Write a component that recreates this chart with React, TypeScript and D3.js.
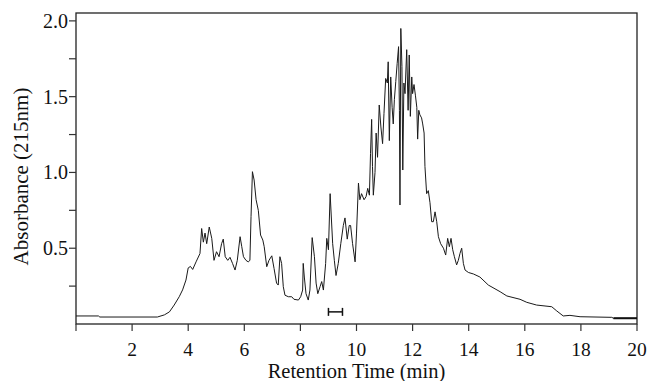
import React from 'react';
import * as d3 from 'd3';

// retention time (min) and absorbance
const times = [
  0, 0.8, 0.85, 2.9, 3.15, 3.33, 3.5, 3.68, 3.8, 3.92, 4.0, 4.08, 4.16, 4.28, 4.42, 4.48,
  4.54, 4.6, 4.66, 4.75, 4.84, 4.92, 5.01, 5.1, 5.19, 5.25, 5.32, 5.41, 5.49, 5.58, 5.67,
  5.75, 5.85, 5.91, 5.97, 6.06, 6.14, 6.2, 6.24, 6.29, 6.35, 6.42, 6.5, 6.58, 6.66, 6.71,
  6.8, 6.88, 6.98, 7.06, 7.15, 7.21, 7.27, 7.33, 7.39, 7.45, 7.57, 7.69, 7.77, 7.93, 8.01,
  8.08, 8.1, 8.14, 8.2, 8.28, 8.34, 8.42, 8.5, 8.56, 8.62, 8.7, 8.76, 8.82, 8.9, 8.94, 9.0,
  9.06, 9.12, 9.15, 9.21, 9.27, 9.35, 9.44, 9.53, 9.59, 9.67, 9.74, 9.79, 9.86, 9.95,
  10.0, 10.07, 10.12, 10.18, 10.27, 10.34, 10.4, 10.46, 10.5, 10.54, 10.57, 10.6, 10.66,
  10.7, 10.75, 10.81, 10.87, 10.93, 10.98, 11.04, 11.1, 11.13, 11.17, 11.22, 11.27, 11.31,
  11.35, 11.4, 11.45, 11.5, 11.53, 11.55, 11.58, 11.62, 11.65, 11.69, 11.73, 11.79, 11.84,
  11.88, 11.92, 11.97, 12.0, 12.05, 12.1, 12.15, 12.18, 12.22, 12.26, 12.32, 12.36, 12.41,
  12.44, 12.5, 12.56, 12.62, 12.68, 12.74, 12.8, 12.86, 12.92, 13.0, 13.1, 13.18, 13.25,
  13.31, 13.37, 13.43, 13.49, 13.57, 13.63, 13.69, 13.75, 13.81, 13.87, 13.99, 14.17, 14.4,
  14.7, 15.12, 15.36, 15.83, 16.07, 16.42, 16.96, 17.14, 17.37, 17.61, 17.97, 19.1, 19.16, 20,
];
const absorbance = [
  0.053, 0.053, 0.046, 0.046, 0.06, 0.08, 0.125, 0.18, 0.225, 0.29, 0.37, 0.38, 0.36, 0.41, 0.465, 0.63,
  0.54, 0.6, 0.53, 0.64, 0.565, 0.42, 0.477, 0.444, 0.53, 0.56, 0.444, 0.42, 0.44, 0.4, 0.356,
  0.42, 0.576, 0.51, 0.444, 0.42, 0.41, 0.42, 0.71, 1.005, 0.95, 0.82, 0.75, 0.587, 0.554, 0.51,
  0.378, 0.42, 0.45, 0.367, 0.27, 0.257, 0.444, 0.4, 0.246, 0.19, 0.18, 0.18, 0.163, 0.158, 0.18,
  0.224, 0.4, 0.31, 0.2, 0.158, 0.224, 0.57, 0.444, 0.27, 0.2, 0.246, 0.28, 0.224, 0.4, 0.565, 0.49,
  0.86, 0.64, 0.53, 0.42, 0.32, 0.4, 0.53, 0.65, 0.7, 0.56, 0.65, 0.65, 0.53, 0.41,
  0.6, 0.93, 0.82, 0.86, 0.82, 0.84, 0.895, 0.85, 1.126, 1.35, 1.04, 0.85, 1.0,
  1.26, 1.1, 1.445, 1.3, 1.19, 1.39, 1.62, 1.59, 1.73, 1.21, 1.63, 1.43, 1.32,
  1.48, 1.6, 1.72, 1.83, 1.41, 0.785, 1.95, 1.7, 1.016, 1.59, 1.52, 1.81, 1.41,
  1.775, 1.37, 1.63, 1.52, 1.58, 1.51, 1.43, 1.22, 1.41, 1.38, 1.36, 1.32, 1.26,
  1.04, 0.86, 0.88, 0.8, 0.675, 0.675, 0.74, 0.675, 0.576, 0.53, 0.5, 0.455, 0.565,
  0.51, 0.565, 0.49, 0.444, 0.39, 0.42, 0.466, 0.5, 0.4, 0.356, 0.34, 0.33, 0.31,
  0.257, 0.213, 0.185, 0.163, 0.143, 0.125, 0.114, 0.086, 0.053, 0.057, 0.048, 0.044, 0.038, 0.038,
];

const xTicks = [2, 4, 6, 8, 10, 12, 14, 16, 18, 20];
const xTickMarks = [0, 2, 4, 6, 8, 10, 12, 14, 16, 18, 20];
const yTicks = [0.5, 1.0, 1.5, 2.0];
const yMinorTicks = [0.25, 0.75, 1.25, 1.75];

// fraction collection bar
const barStart = 9.0;
const barEnd = 9.5;
const barLevel = 0.08;

const W = 649;
const H = 381;
const left = 76;
const right = 637;
const top = 13;
const bottom = 324;
const font = '"Liberation Serif", "Times New Roman", serif';

export default function App() {
  const x = d3.scaleLinear().domain([0, 20]).range([left, right]);
  const y = d3.scaleLinear().domain([0, 2.052]).range([bottom, top]);

  const pts = times.map((t, i) => [t, absorbance[i]] as [number, number]);
  const line = d3.line<[number, number]>()
    .x(d => x(d[0]))
    .y(d => y(d[1]));

  return (
    <svg width={W} height={H} style={{ position: 'absolute', left: 0, top: 0, background: '#fff' }}>
      <rect x={left} y={top} width={right - left} height={bottom - top}
        fill="none" stroke="#222" strokeWidth={1.3} />

      {xTickMarks.map(t => (
        <line key={'xt' + t} x1={x(t)} x2={x(t)} y1={bottom} y2={bottom + 7} stroke="#333" strokeWidth={1.2} />
      ))}
      {xTicks.map(t => (
        <text key={'xl' + t} x={x(t)} y={356} textAnchor="middle" fontFamily={font} fontSize={19.5} fill="#111">
          {t}
        </text>
      ))}

      {yTicks.concat(yMinorTicks).map(v => (
        <line key={'yt' + v} x1={left - 7} x2={left} y1={y(v)} y2={y(v)} stroke="#333" strokeWidth={1.2} />
      ))}
      {yTicks.map(v => (
        <text key={'yl' + v} x={left - 8} y={y(v)} dy="0.35em" textAnchor="end" fontFamily={font} fontSize={20} fill="#111">
          {v.toFixed(1)}
        </text>
      ))}

      <path d={line(pts) || ''} fill="none" stroke="#1a1a1a" strokeWidth={1} strokeLinejoin="round" />

      {/* thicker noisy tail at the end of the run */}
      <line x1={x(19.16)} x2={x(20)} y1={y(0.038)} y2={y(0.038)} stroke="#111" strokeWidth={2} />

      <g stroke="#111" strokeWidth={1.5}>
        <line x1={x(barStart)} x2={x(barEnd)} y1={y(barLevel)} y2={y(barLevel)} />
        <line x1={x(barStart)} x2={x(barStart)} y1={y(barLevel) - 4} y2={y(barLevel) + 4} />
        <line x1={x(barEnd)} x2={x(barEnd)} y1={y(barLevel) - 4} y2={y(barLevel) + 4} />
      </g>

      <text x={(left + right) / 2} y={378} textAnchor="middle" fontFamily={font} fontSize={20.5} fill="#111">
        Retention Time (min)
      </text>
      <text transform={`translate(28,${(top + bottom) / 2 + 8}) rotate(-90)`} textAnchor="middle"
        fontFamily={font} fontSize={21} fill="#111">
        Absorbance (215nm)
      </text>
    </svg>
  );
}
